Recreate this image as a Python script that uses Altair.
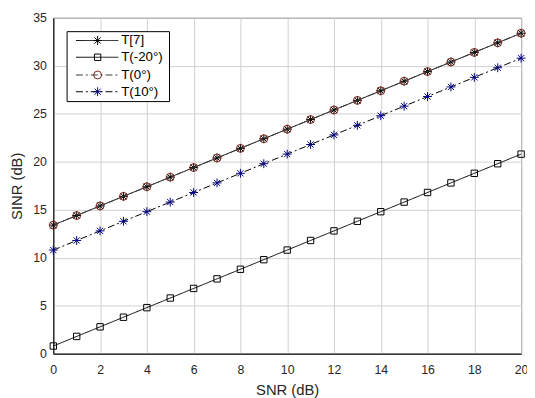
import altair as alt
import pandas as pd

snr = [0, 1, 2, 3, 4, 5, 6, 7, 8, 9, 10, 11, 12, 13, 14, 15, 16, 17, 18, 19, 20]
t7 = [13.4, 14.4, 15.4, 16.4, 17.4, 18.4, 19.4, 20.4, 21.4, 22.4, 23.4,
      24.4, 25.4, 26.4, 27.4, 28.4, 29.4, 30.4, 31.4, 32.4, 33.4]
t_m20 = [0.8, 1.8, 2.8, 3.8, 4.8, 5.8, 6.8, 7.8, 8.8, 9.8, 10.8,
         11.8, 12.8, 13.8, 14.8, 15.8, 16.8, 17.8, 18.8, 19.8, 20.8]
t_0 = [13.4, 14.4, 15.4, 16.4, 17.4, 18.4, 19.4, 20.4, 21.4, 22.4, 23.4,
       24.4, 25.4, 26.4, 27.4, 28.4, 29.4, 30.4, 31.4, 32.4, 33.4]
t_10 = [10.8, 11.8, 12.8, 13.8, 14.8, 15.8, 16.8, 17.8, 18.8, 19.8, 20.8,
        21.8, 22.8, 23.8, 24.8, 25.8, 26.8, 27.8, 28.8, 29.8, 30.8]
series_names = ["T[7]", "T(-20°)", "T(0°)", "T(10°)"]
x_ticks = [0, 2, 4, 6, 8, 10, 12, 14, 16, 18, 20]
y_ticks = [0, 5, 10, 15, 20, 25, 30, 35]

ASTERISK = "M-1,0L1,0M0,-1L0,1M-0.7,-0.7L0.7,0.7M-0.7,0.7L0.7,-0.7"
DASHDOT = [7, 3, 2, 3]

styles = [
    dict(line="#000000", dash=[1, 0], marker="#000000", shape=ASTERISK, size=81),
    dict(line="#000000", dash=[1, 0], marker="#000000", shape="square", size=42),
    dict(line="#3a3a3a", dash=DASHDOT, marker="#7a2418", shape="circle", size=64),
    dict(line="#000000", dash=DASHDOT, marker="#000080", shape=ASTERISK, size=81),
]
values = [t7, t_m20, t_0, t_10]

xs = alt.X("snr:Q", scale=alt.Scale(domain=[0, 20], nice=False),
           axis=alt.Axis(values=x_ticks, title="SNR (dB)", labelPadding=10,
                         titlePadding=7))
ys = alt.Y("v:Q", scale=alt.Scale(domain=[0, 35], nice=False),
           axis=alt.Axis(values=y_ticks, title="SINR (dB)", labelPadding=7,
                         titlePadding=8))

layers = []
for name, vals, st in zip(series_names, values, styles):
    df = pd.DataFrame({"snr": snr, "v": vals, "s": name})
    base = alt.Chart(df)
    layers.append(base.mark_line(color=st["line"], strokeWidth=1,
                                 strokeDash=st["dash"]).encode(x=xs, y=ys))
    layers.append(base.mark_point(shape=st["shape"], size=st["size"],
                                  filled=False, color=st["marker"],
                                  strokeWidth=1, opacity=1).encode(x=xs, y=ys))

# legend box (plot-pixel placement)
layers.append(alt.Chart(pd.DataFrame({"a": [0]})).mark_rect(
    fill="white", stroke="black", strokeWidth=1).encode(
    x=alt.value(14), x2=alt.value(118), y=alt.value(14), y2=alt.value(85)))
row_y = [23, 40, 58, 75]
for name, st, ry in zip(series_names, styles, row_y):
    one = alt.Chart(pd.DataFrame({"a": [0]}))
    layers.append(one.mark_rule(color=st["line"], strokeWidth=1,
                                strokeDash=st["dash"]).encode(
        x=alt.value(23), x2=alt.value(66), y=alt.value(ry)))
    layers.append(one.mark_point(shape=st["shape"], size=st["size"],
                                 filled=False, color=st["marker"],
                                 strokeWidth=1, opacity=1).encode(
        x=alt.value(45), y=alt.value(ry)))
    layers.append(one.mark_text(text=name, align="left", baseline="middle",
                                font="Liberation Sans", fontSize=13.5,
                                color="#000000").encode(
        x=alt.value(69), y=alt.value(ry)))

chart = alt.layer(*layers).properties(
    width=475, height=341,
    autosize=alt.AutoSizeParams(type="none"),
    padding={"left": 46, "top": 7, "right": 6, "bottom": 44},
    background="white",
).configure_view(stroke="black", strokeWidth=1).configure_axis(
    grid=True, gridColor="#d0d0d0", gridWidth=1,
    domain=True, domainColor="black", domainWidth=1,
    ticks=False, labelFlush=False, labelOverlap=False,
    labelFont="Liberation Sans", labelFontSize=12.5, labelColor="#262626",
    titleFont="Liberation Sans", titleFontSize=15, titleFontWeight="normal",
    titleColor="#262626",
)

chart.save("out.html", embed_options={"renderer": "svg", "actions": False})
